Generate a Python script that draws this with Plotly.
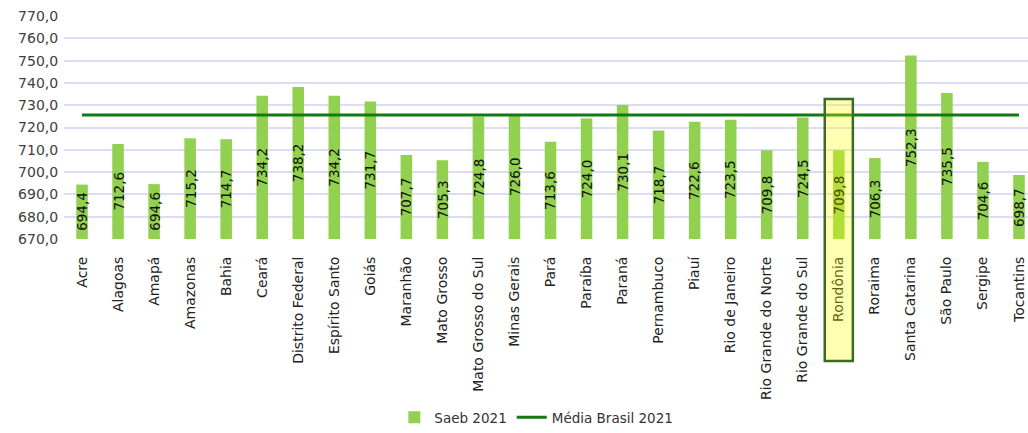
import plotly.graph_objects as go

estados = ['Acre', 'Alagoas', 'Amapá', 'Amazonas', 'Bahia', 'Ceará', 'Distrito Federal',
           'Espírito Santo', 'Goiás', 'Maranhão', 'Mato Grosso', 'Mato Grosso do Sul',
           'Minas Gerais', 'Pará', 'Paraíba', 'Paraná', 'Pernambuco', 'Piauí',
           'Rio de Janeiro', 'Rio Grande do Norte', 'Rio Grande do Sul', 'Rondônia',
           'Roraima', 'Santa Catarina', 'São Paulo', 'Sergipe', 'Tocantins']
saeb_2021 = [694.4, 712.6, 694.6, 715.2, 714.7, 734.2, 738.2, 734.2, 731.7, 707.7, 705.3,
             724.8, 726.0, 713.6, 724.0, 730.1, 718.7, 722.6, 723.5, 709.8, 724.5, 709.8,
             706.3, 752.3, 735.5, 704.6, 698.7]
media_brasil = 725.6
destaque = 'Rondônia'

y_min, y_max = 670, 770
font = 'DejaVu Sans'

fig = go.Figure()

fig.add_trace(go.Bar(
    x=estados,
    y=[v - y_min for v in saeb_2021],
    base=y_min,
    name='Saeb 2021',
    marker=dict(color='#92d050', line=dict(width=0)),
    width=0.32,
    hoverinfo='skip',
))

fig.add_trace(go.Scatter(
    x=estados,
    y=[media_brasil] * len(estados),
    mode='lines',
    name='Média Brasil 2021',
    line=dict(color='#137a13', width=3),
))

# rótulos dos valores, girados, no meio das barras
for est, v in zip(estados, saeb_2021):
    fig.add_annotation(
        x=est, y=(y_min + v) / 2,
        text=f'{v:.1f}'.replace('.', ','),
        textangle=-90,
        showarrow=False,
        font=dict(family=font, size=13.5, color='#4d4d00' if est == destaque else '#111111'),
    )

# destaque para Rondônia
i = estados.index(destaque)
fig.add_shape(
    type='rect', layer='above',
    xref='x', yref='paper',
    x0=i - 0.39, x1=i + 0.39,
    y0=-0.547, y1=0.628,
    fillcolor='rgba(255,255,0,0.3)',
    line=dict(color='#3b6a26', width=2.5),
)

fig.update_layout(
    width=1028, height=433,
    margin=dict(l=64, r=0, t=16, b=194),
    paper_bgcolor='white',
    plot_bgcolor='white',
    separators=',.',
    showlegend=True,
    legend=dict(
        orientation='h',
        x=0.49, xanchor='center',
        yref='container', y=0.0, yanchor='bottom',
        font=dict(family=font, size=13.5, color='#333333'),
        traceorder='normal',
        bgcolor='rgba(0,0,0,0)',
    ),
    font=dict(family=font),
)

fig.update_xaxes(
    range=[-0.5, 26.25],
    tickangle=-90,
    tickfont=dict(family=font, size=14, color='#222222'),
    showgrid=False,
    showline=False,
    ticks='outside', ticklen=11, tickcolor='rgba(0,0,0,0)',
    automargin=False,
)

fig.update_yaxes(
    range=[y_min, y_max],
    dtick=10,
    tickformat='.1f',
    tickfont=dict(family=font, size=14, color='#404040'),
    gridcolor='#dcdcf2',
    gridwidth=1.5,
    zeroline=False,
    showline=False,
    ticks='outside', ticklen=2, tickcolor='rgba(0,0,0,0)',
    automargin=False,
)

fig.write_html('out.html', config={'displayModeBar': False},
               post_script="document.body.style.margin='0';")
